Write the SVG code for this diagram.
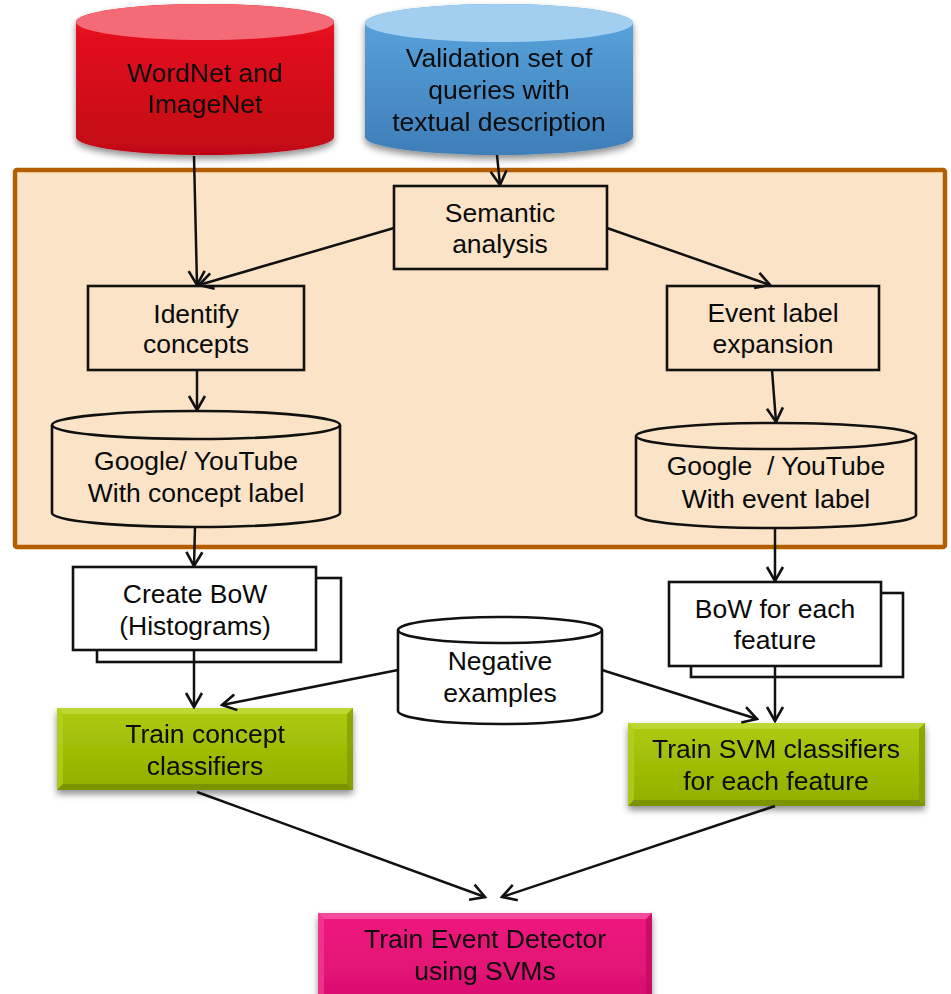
<svg xmlns="http://www.w3.org/2000/svg" width="951" height="994" viewBox="0 0 951 994">
  <defs>
    <style>
      text { font-family: "Liberation Sans", Arial, sans-serif; font-size: 26.5px; fill: #0a0a0a; text-anchor: middle; }
      .box { fill: #FBE3C8; stroke: #111; stroke-width: 2.6; }
      .wbox { fill: #fff; stroke: #111; stroke-width: 2.6; }
      .cyl { stroke: #111; stroke-width: 2.6; }
      .edge { fill: none; stroke: #111; stroke-width: 2.5; marker-end: url(#arrow); }
    </style>
    <marker id="arrow" markerUnits="userSpaceOnUse" viewBox="-16 -10 18 20" refX="0" refY="0" markerWidth="18" markerHeight="20" orient="auto">
      <path d="M-14,-8 L0,0 L-14,8" fill="none" stroke="#111" stroke-width="2.6"/>
    </marker>
    <filter id="soft" x="-10%" y="-10%" width="120%" height="140%">
      <feGaussianBlur in="SourceAlpha" stdDeviation="3.5"/>
      <feOffset dx="0" dy="4" result="b"/>
      <feComponentTransfer><feFuncA type="linear" slope="0.45"/></feComponentTransfer>
      <feMerge><feMergeNode/><feMergeNode in="SourceGraphic"/></feMerge>
    </filter>
    <linearGradient id="redBody" x1="0" y1="0" x2="0" y2="1">
      <stop offset="0" stop-color="#EC1422"/>
      <stop offset="1" stop-color="#C10612"/>
    </linearGradient>
    <linearGradient id="blueBody" x1="0" y1="0" x2="0" y2="1">
      <stop offset="0" stop-color="#5AA6E0"/>
      <stop offset="1" stop-color="#3F7EB8"/>
    </linearGradient>
    <linearGradient id="green" x1="0" y1="0" x2="0" y2="1">
      <stop offset="0" stop-color="#AFCB0C"/>
      <stop offset="1" stop-color="#91AE00"/>
    </linearGradient>
    <linearGradient id="pink" x1="0" y1="0" x2="0" y2="1">
      <stop offset="0" stop-color="#F0187F"/>
      <stop offset="1" stop-color="#D90F6F"/>
    </linearGradient>
  </defs>

  <!-- shared container for the query analysis stage -->
  <rect id="analysis-stage" x="15" y="170" width="930" height="377" rx="2" fill="#FBE3C8" stroke="#B35F00" stroke-width="4.5"/>

  <!-- source databases -->
  <g id="wordnet" filter="url(#soft)">
    <path d="M76,22 A129,18 0 0 1 334,22 L334,137 A129,18 0 0 1 76,137 Z" fill="url(#redBody)"/>
    <ellipse cx="205" cy="22" rx="129" ry="18" fill="#F46A76"/>
    <text x="205" y="82">WordNet and</text>
    <text x="205" y="113">ImageNet</text>
  </g>

  <g id="validation-set" filter="url(#soft)">
    <path d="M365,23 A134,19 0 0 1 633,23 L633,137 A134,18 0 0 1 365,137 Z" fill="url(#blueBody)"/>
    <ellipse cx="499" cy="23" rx="134" ry="19" fill="#A2CFF0"/>
    <text x="499" y="67">Validation set of</text>
    <text x="499" y="99">queries with</text>
    <text x="499" y="131">textual description</text>
  </g>

  <!-- analysis steps -->
  <g id="semantic-analysis">
    <rect class="box" x="394" y="186" width="213" height="83"/>
    <text x="500" y="222">Semantic</text>
    <text x="500" y="253">analysis</text>
  </g>

  <g id="identify-concepts">
    <rect class="box" x="88" y="286" width="216" height="84"/>
    <text x="196" y="323">Identify</text>
    <text x="196" y="353">concepts</text>
  </g>

  <g id="event-label-expansion">
    <rect class="box" x="667" y="286" width="212" height="84"/>
    <text x="773" y="322">Event label</text>
    <text x="773" y="353">expansion</text>
  </g>

  <g id="concept-search">
    <path class="cyl box" d="M52,425 A144,14 0 0 1 340,425 L340,513 A144,14 0 0 1 52,513 Z"/>
    <path class="cyl" fill="none" d="M52,425 A144,14 0 0 0 340,425"/>
    <text x="196" y="470">Google/ YouTube</text>
    <text x="196" y="502">With concept label</text>
  </g>

  <g id="event-search">
    <path class="cyl box" d="M636,436 A140,13 0 0 1 916,436 L916,515 A140,13 0 0 1 636,515 Z"/>
    <path class="cyl" fill="none" d="M636,436 A140,13 0 0 0 916,436"/>
    <text x="776" y="475" xml:space="preserve">Google  / YouTube</text>
    <text x="776" y="508">With event label</text>
  </g>

  <!-- feature extraction -->
  <g id="create-bow">
    <rect class="wbox" x="97" y="578" width="244" height="84"/>
    <rect class="wbox" x="73" y="567" width="243" height="83"/>
    <text x="195" y="603">Create BoW</text>
    <text x="195" y="635">(Histograms)</text>
  </g>

  <g id="bow-each-feature">
    <rect class="wbox" x="691" y="593" width="212" height="84"/>
    <rect class="wbox" x="669" y="582" width="212" height="84"/>
    <text x="775" y="618">BoW for each</text>
    <text x="775" y="649">feature</text>
  </g>

  <g id="negative-examples">
    <path class="cyl wbox" d="M398,630 A102,13 0 0 1 602,630 L602,711 A102,13 0 0 1 398,711 Z"/>
    <path class="cyl" fill="none" d="M398,630 A102,13 0 0 0 602,630"/>
    <text x="500" y="670">Negative</text>
    <text x="500" y="702">examples</text>
  </g>

  <!-- training stages -->
  <g id="train-concept" filter="url(#soft)">
    <rect x="57" y="708" width="296" height="82" fill="url(#green)"/>
    <polygon points="57,708 353,708 347,714 63,714" fill="#C2DA3A" opacity="0.8"/>
    <polygon points="57,708 63,714 63,784 57,790" fill="#B6D022" opacity="0.7"/>
    <polygon points="353,708 353,790 347,784 347,714" fill="#7F9A00" opacity="0.7"/>
    <polygon points="57,790 353,790 347,784 63,784" fill="#748D00" opacity="0.8"/>
    <text x="205" y="743">Train concept</text>
    <text x="205" y="775">classifiers</text>
  </g>

  <g id="train-svm" filter="url(#soft)">
    <rect x="628" y="723" width="297" height="83" fill="url(#green)"/>
    <polygon points="628,723 925,723 919,729 634,729" fill="#C2DA3A" opacity="0.8"/>
    <polygon points="628,723 634,729 634,800 628,806" fill="#B6D022" opacity="0.7"/>
    <polygon points="925,723 925,806 919,800 919,729" fill="#7F9A00" opacity="0.7"/>
    <polygon points="628,806 925,806 919,800 634,800" fill="#748D00" opacity="0.8"/>
    <text x="776" y="758">Train SVM classifiers</text>
    <text x="776" y="790">for each feature</text>
  </g>

  <g id="event-detector" filter="url(#soft)">
    <rect x="318" y="913" width="334" height="90" fill="url(#pink)"/>
    <polygon points="318,913 652,913 646,919 324,919" fill="#F65AA2" opacity="0.8"/>
    <polygon points="318,913 324,919 324,1003 318,1003" fill="#F3489A" opacity="0.6"/>
    <polygon points="652,913 652,1003 646,1003 646,919" fill="#B80A5C" opacity="0.6"/>
    <text x="485" y="948">Train Event Detector</text>
    <text x="485" y="980">using SVMs</text>
  </g>

  <!-- connectors -->
  <g id="connectors">
    <path class="edge" d="M194,156 L197,285"/>
    <path class="edge" d="M497,155 L500,185"/>
    <path class="edge" d="M394,228 L199,285"/>
    <path class="edge" d="M607,228 L770,285"/>
    <path class="edge" d="M197,370 L197,410"/>
    <path class="edge" d="M772,370 L776,422"/>
    <path class="edge" d="M195,527 L194,566"/>
    <path class="edge" d="M775,528 L775,581"/>
    <path class="edge" d="M194,650 L194,707"/>
    <path class="edge" d="M398,670 L222,705"/>
    <path class="edge" d="M602,670 L757,719"/>
    <path class="edge" d="M775,666 L775,721"/>
    <path class="edge" d="M197,792 L485,897"/>
    <path class="edge" d="M775,806 L502,897"/>
  </g>
</svg>
